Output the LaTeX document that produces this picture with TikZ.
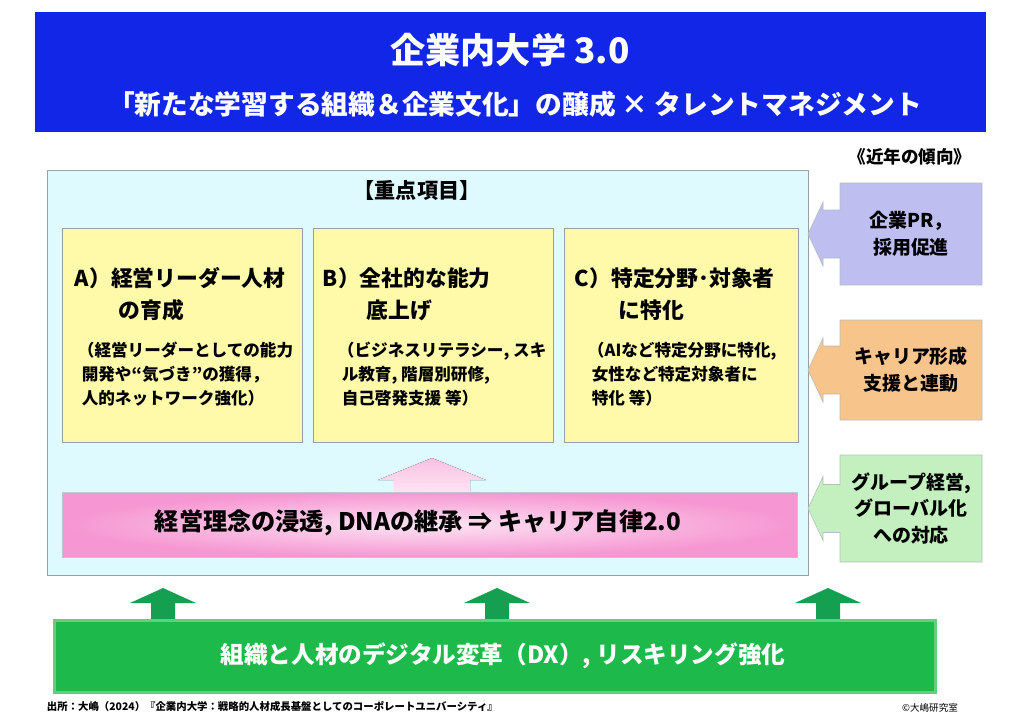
\documentclass[tikz,border=0pt]{standalone}
\usepackage{fontspec}
\setmainfont{Noto Sans CJK JP}
\usetikzlibrary{positioning,shadings}
\definecolor{head_blue}{RGB}{18,38,232}
\definecolor{base_cyan}{RGB}{222,250,255}
\definecolor{item_yell}{RGB}{255,250,170}
\definecolor{edge_gray}{RGB}{150,160,165}
\definecolor{pink_in}{RGB}{253,228,243}
\definecolor{pink_out}{RGB}{246,150,210}
\definecolor{trend_blue}{RGB}{190,190,240}
\definecolor{trend_orng}{RGB}{247,196,140}
\definecolor{trend_grn}{RGB}{195,240,190}
\definecolor{dx_green}{RGB}{30,185,75}
\definecolor{up_green}{RGB}{20,160,80}
\begin{document}
\begin{tikzpicture}[x=0.025cm,y=-0.025cm,font=\bfseries]
    \tikzstyle{item}=[draw=edge_gray, fill=item_yell, minimum width=6cm, minimum height=5.35cm, anchor=north west, inner sep=0pt]
    \tikzstyle{trend}=[draw=edge_gray!70, line width=0.4pt]
    \tikzstyle{ttext}=[align=left, anchor=west, font=\bfseries\fontsize{15.5}{22.8}\selectfont]
    \tikzstyle{body}=[align=left, anchor=west, font=\bfseries\fontsize{11.8}{17}\selectfont]
    \tikzstyle{uparrow}=[fill=up_green]

    \useasboundingbox (0,0) rectangle (1024,722);

    % header
    \node[fill=head_blue, minimum width=23.75cm, minimum height=3cm, anchor=north west] (head) at (35,12) {};
    \node[text=white, font=\bfseries\fontsize{25}{28}\selectfont] (title) at (510,50) {企業内大学 3.0};
    \node[text=white, font=\bfseries\fontsize{19}{22}\selectfont] (sub) at (515,104) {「新たな学習する組織＆企業文化」の醸成 × タレントマネジメント};

    % base
    \node[draw=edge_gray, fill=base_cyan, minimum width=19.025cm, minimum height=10.125cm, anchor=north west] (base) at (47,170) {};
    \node[font=\bfseries\fontsize{15}{16}\selectfont] (focus) at (417,190) {【重点項目】};

    \node[item] (A) at (62,228) {};
    \node[item] (B) at (313,228) {};
    \node[item, minimum width=5.85cm] (C) at (564,228) {};

    \node[ttext] at (70,294) {A）経営リーダー人材\\\hspace{2em}の育成};
    \node[body] at (73,374) {（経営リーダーとしての能力\\\ 開発や“気づき”の獲得，\\\ 人的ネットワーク強化）};
    \node[ttext] at (318,294) {B）全社的な能力\\\hspace{2em}底上げ};
    \node[body] at (333,374) {（ビジネスリテラシー, スキ\\\ ル教育, 階層別研修,\\\ 自己啓発支援 等）};
    \node[ttext] at (570,294) {C）特定分野･対象者\\\hspace{2em}に特化};
    \node[body] at (583,374) {（AIなど特定分野に特化,\\\ 女性など特定対象者に\\\ 特化 等）};

    % pink arrow and band
    \fill[top color=pink_out!60!white, bottom color=pink_in] (394,492) -- (394,480) -- (378,480) -- (432,458) -- (486,480) -- (470,480) -- (470,492) -- cycle;
    \node[draw=edge_gray!60, inner color=pink_in, outer color=pink_out, minimum width=18.375cm, minimum height=1.625cm, anchor=north west] (dna) at (62,492) {};
    \node[font=\bfseries\fontsize{17.2}{20}\selectfont] at (418,523) {経営理念の浸透, DNAの継承 ⇒ キャリア自律2.0};

    % trends
    \node[font=\bfseries\fontsize{12.5}{14}\selectfont] (trendhead) at (910,157) {《近年の傾向》};
    \foreach \y/\h/\c/\t in {183/102/trend_blue/{企業PR，\\採用促進}, 320/100/trend_orng/{キャリア形成\\支援と連動}, 455/107/trend_grn/{グループ経営,\\グローバル化\\への対応}}{
      \pgfmathsetmacro\m{\y+\h/2}
      \filldraw[trend, fill=\c] (840,\y) -- (982,\y) -- (982,\y+\h) -- (840,\y+\h) -- (840,\m+24) -- (823,\m+24) -- (823,\m+32) -- (808,\m) -- (823,\m-32) -- (823,\m-24) -- (840,\m-24) -- cycle;
      \node[align=center, font=\bfseries\fontsize{13.5}{19}\selectfont] at (911,\m) {\t};
    }

    % DX
    \foreach \x in {163,497,828}
      \fill[uparrow] (\x-12,619) -- (\x-12,603) -- (\x-33,603) -- (\x,588) -- (\x+33,603) -- (\x+12,603) -- (\x+12,619) -- cycle;
    \node[draw=dx_green!70!white, line width=2pt, fill=dx_green, minimum width=22.025cm, minimum height=1.8cm, anchor=north west] (dx) at (53,619) {};
    \node[text=white, font=\bfseries\fontsize{16.8}{18}\selectfont] at (503,656) {組織と人材のデジタル変革（DX）, リスキリング強化};

    \node[anchor=west, font=\bfseries\fontsize{7.4}{8}\selectfont] (src) at (42,707) {出所：大嶋（2024）『企業内大学：戦略的人材成長基盤としてのコーポレートユニバーシティ』};
    \node[font=\fontsize{6.8}{8}\selectfont] (copy) at (930,708) {©大嶋研究室};
\end{tikzpicture}
\end{document}
